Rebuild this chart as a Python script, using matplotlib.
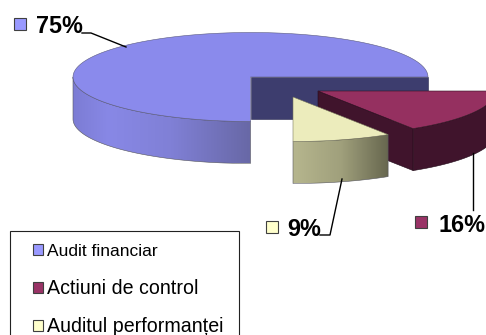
import numpy as np
import matplotlib
matplotlib.use("Agg")
import matplotlib.pyplot as plt
from matplotlib.colors import LinearSegmentedColormap
from matplotlib.patches import Polygon, Rectangle

plt.rcParams["font.family"] = ["Liberation Sans", "DejaVu Sans"]

# Data
categories = ["Audit financiar", "Actiuni de control", "Auditul performanței"]
values = [75, 16, 9]
labels = ["75%", "16%", "9%"]

# Colours
key_colors = ["#9999ff", "#993366", "#ffffcc"]
top_colors = ["#8a8aec", "#953060", "#ececbc"]
side_colors = ["#3d3d6e", "#40142c", "#6a6a50"]

# 3D pie shape, in pixels
RX = 177.5
RY = 44.5
DEPTH = 42
centers = [(250.5, 77), (318, 91), (293, 97)]

fig = plt.figure(figsize=(4.86, 3.35), dpi=100)
ax = fig.add_axes([0, 0, 1, 1])
ax.set_xlim(0, 486)
ax.set_ylim(335, 0)
ax.axis("off")


def arc(center, a0, a1, dy=0):
    t = np.radians(np.linspace(a0, a1, 120))
    return np.column_stack([center[0] + RX * np.cos(t), center[1] + dy - RY * np.sin(t)])


def gradient_wall(center, a0, a1, stops, z):
    top = arc(center, a0, a1)
    bottom = arc(center, a1, a0, DEPTH)
    pts = np.vstack([top, bottom])
    poly = Polygon(pts, closed=True, facecolor="none", edgecolor="#55555c", linewidth=0.4, zorder=z + 0.1)
    ax.add_patch(poly)
    cmap = LinearSegmentedColormap.from_list("wall", stops)
    grad = np.linspace(0, 1, 256).reshape(1, -1)
    im = ax.imshow(grad, cmap=cmap, aspect="auto", zorder=z,
                   extent=[pts[:, 0].min(), pts[:, 0].max(), pts[:, 1].max(), pts[:, 1].min()])
    im.set_clip_path(poly)


# slice angles come from the values
sweep = [v / sum(values) * 360 for v in values]
a_main = sweep[0]
a_maroon = -sweep[1]
a_yellow = a_maroon - sweep[2]

# main slice
c = centers[0]
ax.add_patch(Rectangle((c[0], c[1]), RX, DEPTH, facecolor=side_colors[0], edgecolor="#2a2a50", linewidth=0.4, zorder=1))
gradient_wall(c, 180, a_main, [(0, "#7c7cd4"), (0.2, "#8888e6"), (0.55, "#8080d6"), (1, "#6868a6")], 2)
main_top = np.vstack([[c], arc(c, 0, a_main)])
ax.add_patch(Polygon(main_top, closed=True, facecolor=top_colors[0], edgecolor="#5a5a80", linewidth=0.4, zorder=3))

# maroon slice
c = centers[1]
corner = arc(c, a_maroon, a_maroon)[0]
cut = [c, corner, (corner[0], corner[1] + DEPTH), (c[0], c[1] + DEPTH)]
ax.add_patch(Polygon(cut, closed=True, facecolor=side_colors[1], edgecolor="#200a18", linewidth=0.4, zorder=4))
wall = np.vstack([arc(c, a_maroon, 0), arc(c, 0, a_maroon, DEPTH)])
ax.add_patch(Polygon(wall, closed=True, facecolor=side_colors[1], edgecolor="#200a18", linewidth=0.4, zorder=4))
ax.add_patch(Polygon(np.vstack([[c], arc(c, a_maroon, 0)]), closed=True, facecolor=top_colors[1],
                     edgecolor="#301020", linewidth=0.4, zorder=5))

# yellow slice
c = centers[2]
gradient_wall(c, a_yellow, a_maroon, [(0, "#b6b68e"), (0.5, "#a0a07c"), (1, "#66664e")], 6)
ax.add_patch(Polygon(np.vstack([[c], arc(c, a_yellow, a_maroon)]), closed=True, facecolor=top_colors[2],
                     edgecolor="#77775c", linewidth=0.4, zorder=7))

# leader lines
ax.plot([82, 91, 126], [33, 33, 47], color="black", lw=1, zorder=8)
ax.plot([473, 473], [153, 210], color="black", lw=1, zorder=8)
ax.plot([342, 330, 320], [179, 235, 235], color="black", lw=1, zorder=8)

# data labels
label_pos = [(36, 33), (438, 232), (287, 235.5)]
label_keys = [(13.5, 18), (414.5, 216), (265.5, 220.5)]
for i in range(3):
    ax.add_patch(Rectangle(label_keys[i], 12, 12, facecolor=key_colors[i], edgecolor="#404040", linewidth=0.8, zorder=9))
    ax.text(label_pos[i][0], label_pos[i][1], labels[i], fontsize=16.8, fontweight="bold", color="black",
            ha="left", va="baseline", zorder=9)

# legend box, runs off the bottom of the picture
ax.add_patch(Rectangle((9.5, 231), 229.5, 120, facecolor="white", edgecolor="#222222", linewidth=0.8, zorder=9))
legend_keys = [244, 282, 320]
legend_base = [256, 294, 332]
legend_size = [12.5, 14.1, 14.1]
for i in range(3):
    ax.add_patch(Rectangle((32.5, legend_keys[i]), 10.5, 10.5, facecolor=key_colors[i], edgecolor="#404040",
                           linewidth=0.8, zorder=10))
    ax.text(46.5, legend_base[i], categories[i], fontsize=legend_size[i], color="black",
            ha="left", va="baseline", zorder=10)

ax.set_xlim(0, 486)
ax.set_ylim(335, 0)
plt.savefig("out.png", dpi=100)
